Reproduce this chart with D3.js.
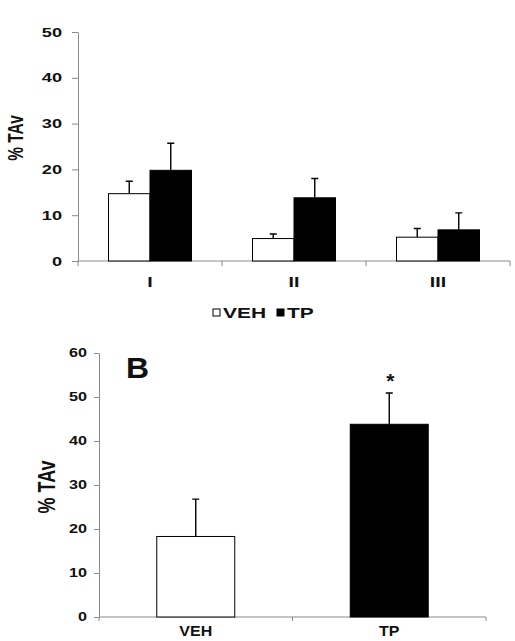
<!DOCTYPE html>
<html>
<head>
<meta charset="utf-8">
<script src="https://cdnjs.cloudflare.com/ajax/libs/d3/7.8.5/d3.min.js"></script>
<style>
  html, body { margin: 0; padding: 0; background: #fff; }
  svg { display: block; }
  text { font-family: "Liberation Sans", Arial, sans-serif; font-weight: bold; fill: #111; }
</style>
</head>
<body>
<div id="chart"></div>
<script>
// Panel A: three stages, VEH vs TP
const categories = ['I', 'II', 'III'];
const series = ['VEH', 'TP'];
const vehMeans = [14.7, 4.9, 5.2];
const vehErrs = [2.7, 1.0, 1.9];
const tpMeans = [19.8, 13.8, 6.8];
const tpErrs = [5.9, 4.2, 3.7];
const yTicksA = [0, 10, 20, 30, 40, 50];

// Panel B: totals
const groupsB = ['VEH', 'TP'];
const meansB = [18.3, 43.8];
const errsB = [8.5, 7.1];
const signifB = ['', '*'];
const yTicksB = [0, 10, 20, 30, 40, 50, 60];

const W = 515, H = 641;
const AXIS = '#8a8a8a';
const STRETCH = 1.4; // the source figure is stretched sideways

const svg = d3.select('#chart').append('svg').attr('width', W).attr('height', H);

// ---------- Panel A ----------
const yA = d3.scaleLinear().domain([0, 50]).range([261, 32]);
const x0 = d3.scaleBand().domain(categories).range([78, 510]);
const x1 = d3.scaleBand().domain(series).range([0, x0.bandwidth()]).paddingOuter(0.735);

const rowsA = categories.map((c, i) => ({
    cat: c,
    vals: [
        { s: 'VEH', m: vehMeans[i], e: vehErrs[i] },
        { s: 'TP', m: tpMeans[i], e: tpErrs[i] }
    ]
}));

const gA = svg.append('g');

// y axis
const yAxA = gA.append('g').attr('transform', 'translate(78,0)')
    .call(d3.axisLeft(yA).tickValues(yTicksA).tickSize(6).tickSizeOuter(0));
yAxA.select('.domain').attr('stroke', AXIS);
yAxA.selectAll('.tick line').attr('stroke', AXIS);
yAxA.selectAll('.tick text')
    .attr('x', -16 / STRETCH)
    .attr('transform', `scale(${STRETCH},1)`)
    .style('font-size', '13px')
    .style('font-family', '"Liberation Sans", Arial, sans-serif')
    .attr('fill', '#111');

// x axis (line + ticks at category boundaries)
gA.append('line').attr('x1', x0.range()[0]).attr('x2', x0.range()[1])
    .attr('y1', yA(0)).attr('y2', yA(0)).attr('stroke', AXIS);
const bA = categories.map(c => x0(c)).concat([x0.range()[1]]);
gA.selectAll('.xtickA').data(bA).enter().append('line')
    .attr('x1', d => d).attr('x2', d => d)
    .attr('y1', yA(0)).attr('y2', yA(0) + 5).attr('stroke', AXIS);

// bars
const grp = gA.selectAll('.grp').data(rowsA).enter().append('g')
    .attr('transform', d => `translate(${x0(d.cat)},0)`);
grp.selectAll('.err').data(d => d.vals).enter().append('path')
    .attr('d', d => {
        const cx = x1(d.s) + x1.bandwidth() / 2;
        return `M${cx},${yA(d.m)}V${yA(d.m + d.e)}M${cx - 3.5},${yA(d.m + d.e)}H${cx + 3.5}`;
    })
    .attr('stroke', '#000').attr('stroke-width', 1.4).attr('fill', 'none');
grp.selectAll('.bar').data(d => d.vals).enter().append('rect')
    .attr('x', d => x1(d.s))
    .attr('y', d => yA(d.m))
    .attr('width', x1.bandwidth())
    .attr('height', d => yA(0) - yA(d.m))
    .attr('fill', d => d.s === 'VEH' ? '#fff' : '#000')
    .attr('stroke', '#000').attr('stroke-width', 1);

// category labels
gA.selectAll('.catlab').data(categories).enter().append('text')
    .attr('transform', d => `translate(${x0(d) + x0.bandwidth() / 2},287) scale(${STRETCH},1)`)
    .attr('text-anchor', 'middle')
    .style('font-size', '14px')
    .text(d => d);

// y label
gA.append('text')
    .attr('transform', `translate(15,138) scale(${STRETCH},1) rotate(-90)`)
    .attr('text-anchor', 'middle').attr('dy', '0.35em')
    .style('font-size', '15.5px')
    .text('% TAv');

// legend
const legX = [213, 277];
const leg = gA.selectAll('.leg').data(series).enter().append('g')
    .attr('transform', (d, i) => `translate(${legX[i]},309)`);
leg.append('rect').attr('width', 7).attr('height', 7)
    .attr('fill', d => d === 'VEH' ? '#fff' : '#000')
    .attr('stroke', '#000').attr('stroke-width', 1);
leg.append('text')
    .attr('transform', `translate(10,9) scale(${STRETCH},1)`)
    .style('font-size', '15px')
    .text(d => d);

// ---------- Panel B ----------
const yB = d3.scaleLinear().domain([0, 60]).range([617, 353]);
const xB = d3.scaleBand().domain(groupsB).range([99, 486]).paddingInner(0.597).paddingOuter(0.2985);

const gB = svg.append('g');

const yAxB = gB.append('g').attr('transform', 'translate(99,0)')
    .call(d3.axisLeft(yB).tickValues(yTicksB).tickSize(5).tickSizeOuter(0));
yAxB.select('.domain').attr('stroke', AXIS);
yAxB.selectAll('.tick line').attr('stroke', AXIS);
yAxB.selectAll('.tick text')
    .attr('x', -12 / 1.35)
    .attr('transform', 'scale(1.35,1)')
    .style('font-size', '12px')
    .style('font-family', '"Liberation Sans", Arial, sans-serif')
    .attr('fill', '#111');

gB.append('line').attr('x1', xB.range()[0]).attr('x2', xB.range()[1])
    .attr('y1', yB(0)).attr('y2', yB(0)).attr('stroke', AXIS);
const stepB = xB.step();
const bB = [xB.range()[0]].concat(groupsB.map(g => xB(g) + xB.bandwidth() + stepB * xB.paddingInner() / 2));
bB[bB.length - 1] = xB.range()[1];
gB.selectAll('.xtickB').data(bB).enter().append('line')
    .attr('x1', d => d).attr('x2', d => d)
    .attr('y1', yB(0)).attr('y2', yB(0) + 4).attr('stroke', AXIS);

const rowsB = groupsB.map((g, i) => ({ g, m: meansB[i], e: errsB[i], sig: signifB[i] }));

gB.selectAll('.errB').data(rowsB).enter().append('path')
    .attr('d', d => {
        const cx = xB(d.g) + xB.bandwidth() / 2;
        return `M${cx},${yB(d.m)}V${yB(d.m + d.e)}M${cx - 3.5},${yB(d.m + d.e)}H${cx + 3.5}`;
    })
    .attr('stroke', '#000').attr('stroke-width', 1.4).attr('fill', 'none');
gB.selectAll('.barB').data(rowsB).enter().append('rect')
    .attr('x', d => xB(d.g))
    .attr('y', d => yB(d.m))
    .attr('width', xB.bandwidth())
    .attr('height', d => yB(0) - yB(d.m))
    .attr('fill', d => d.g === 'VEH' ? '#fff' : '#000')
    .attr('stroke', '#000').attr('stroke-width', 1);

// significance marks
gB.selectAll('.sig').data(rowsB).enter().append('text')
    .attr('x', d => xB(d.g) + xB.bandwidth() / 2 + 1)
    .attr('y', d => yB(d.m + d.e) - 5)
    .attr('text-anchor', 'middle')
    .style('font-size', '21px')
    .text(d => d.sig);

// group labels, kept just inside the bottom edge
gB.selectAll('.glab').data(groupsB).enter().append('text')
    .attr('transform', d => `translate(${xB(d) + xB.bandwidth() / 2},636) scale(1.1,1)`)
    .attr('text-anchor', 'middle')
    .style('font-size', '14.5px')
    .text(d => d);

gB.append('text')
    .attr('transform', `translate(47,487) scale(1.3,1) rotate(-90)`)
    .attr('text-anchor', 'middle').attr('dy', '0.35em')
    .style('font-size', '18px')
    .text('% TAv');

gB.append('text')
    .attr('transform', 'translate(126,378) scale(1.1,1)')
    .style('font-size', '29px')
    .text('B');
</script>
</body>
</html>
